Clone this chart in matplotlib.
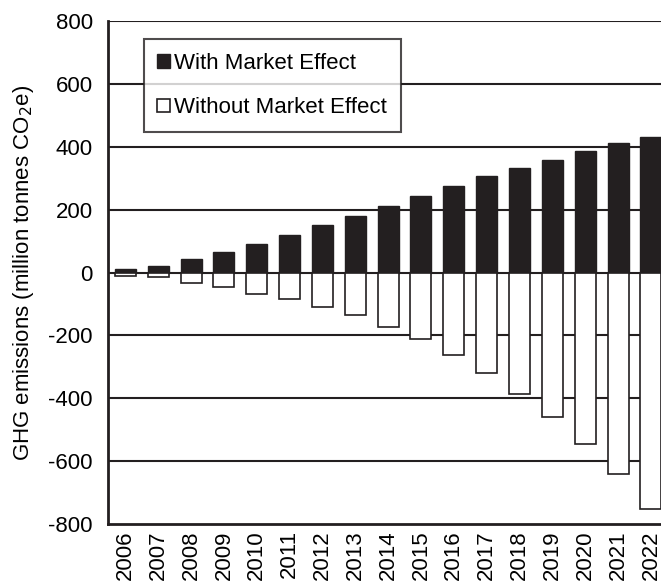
import numpy as np
import matplotlib
matplotlib.use('Agg')
import matplotlib.pyplot as plt

plt.rcParams['font.family'] = ['Liberation Sans', 'DejaVu Sans']
plt.rcParams['axes.unicode_minus'] = False

# data
years = [str(y) for y in range(2006, 2023)]
with_market = [12, 20, 43, 65, 92, 119, 150, 181, 213, 243, 274, 306, 332, 359, 386, 412, 430]
without_market = [-10, -15, -33, -45, -69, -84, -109, -136, -173, -213, -263, -319, -387, -458, -544, -640, -753]
yticks = [-800, -600, -400, -200, 0, 200, 400, 600, 800]

fig = plt.figure(figsize=(6.61, 5.84), dpi=100)
ax = fig.add_axes([0.1634, 0.1027, 0.8366 + 0.02, 0.8613])

x = np.arange(len(years))
w = 0.64
for yv in yticks[1:]:
    ax.axhline(yv, color='#231f20', lw=1.5, zorder=1)
b1 = ax.bar(x, with_market, w, color='#231f20', edgecolor='#231f20', lw=1.0, zorder=2,
            label='With Market Effect')
b2 = ax.bar(x, without_market, w, color='white', edgecolor='#231f20', lw=1.2, zorder=2,
            label='Without Market Effect')

ax.set_ylim(-800, 800)
ax.set_yticks(yticks)
ax.set_xlim(-0.53, 16.31 + 0.02 * 661 / 33)
ax.set_xticks(x)
ax.set_xticklabels(years, rotation=90, fontsize=16)
ax.tick_params(axis='y', labelsize=16, length=0, pad=11)
ax.tick_params(axis='x', length=0, pad=4.5)
for s in ['top', 'right']:
    ax.spines[s].set_visible(False)
for s in ['left', 'bottom']:
    ax.spines[s].set_linewidth(2)
    ax.spines[s].set_color('#231f20')

ax.set_ylabel('GHG emissions (million tonnes CO$_2$e)', fontsize=16, labelpad=9)

leg = ax.legend(loc='upper left', bbox_to_anchor=(0.063, 0.964), borderaxespad=0,
                fontsize=16, frameon=True, fancybox=False, edgecolor='#231f20',
                handlelength=0.57, handleheight=0.57, handletextpad=0.18,
                labelspacing=1.05, borderpad=0.62)
leg.get_frame().set_linewidth(1.5)
leg.set_zorder(5)

fig.savefig('out.png', dpi=100)
